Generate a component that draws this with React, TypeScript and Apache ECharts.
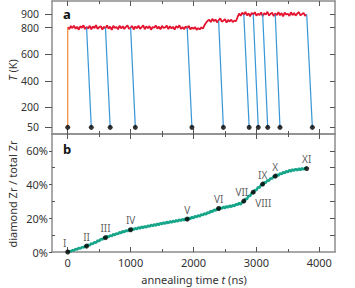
import React, { useEffect, useRef } from "react";
import * as echarts from "echarts";

// sampling step of the recorded traces (ns)
const STEP = 25;

// panel a: temperature trace (K), one value every 25 ns from 0 to 3800 ns
const temperature = [
  803, 788, 812, 796, 815, 791, 807, 784,
  810, 799, 817, 789, 805, 793, 814, 786,
  809, 797, 818, 790, 802, 811, 785, 806,
  795, 816, 792, 808, 783, 813, 798, 804,
  787, 815, 794, 810, 789, 806, 817, 791,
  800, 812, 786, 808, 796, 814, 790, 803,
  818, 788, 809, 795, 811, 784, 805, 799,
  816, 792, 807, 787, 813, 797, 802, 815,
  789, 810, 794, 806, 785, 812, 798, 817,
  791, 804, 788, 809, 796, 814, 786, 801,
  790, 805, 783, 796, 787, 802, 792, 818,
  836, 852, 858, 842, 866, 848, 861, 839,
  855, 870, 845, 852, 863, 838, 857, 846,
  860, 841, 853, 848, 878, 905, 889, 913,
  896, 918, 892, 907, 884, 910, 899, 916,
  890, 904, 895, 914, 887, 908, 897, 919,
  891, 903, 912, 886, 906, 894, 917, 893,
  909, 885, 912, 898, 904, 888, 915, 894,
  910, 890, 906, 916, 892, 901, 911, 889,
  898,
];

// quenches: start time, start temperature, end time (at 50 K)
const quenchStart = [300, 600, 1000, 1900, 2400, 2800, 2950, 3100, 3300, 3800];
const quenchStartT = [800, 800, 800, 800, 850, 900, 900, 900, 900, 900];
const quenchEnd = [375, 675, 1075, 1975, 2475, 2885, 3030, 3180, 3375, 3890];
const heatTime = 0;
const heatT = [50, 800];
const lowT = 50;

// panel b: diamond Zr fraction (%), one value every 25 ns from 0 to 3800 ns
const diamond = [
  0.0, 0.5, 0.2, 1.2, 0.8, 1.9, 1.3, 2.5,
  1.9, 3.0, 2.5, 3.7, 3.3, 4.4, 3.8, 5.2,
  4.7, 6.0, 5.4, 6.9, 6.3, 7.8, 7.2, 8.7,
  8.2, 9.5, 8.8, 10.0, 9.3, 10.7, 9.9, 11.2,
  10.5, 11.9, 11.1, 12.5, 11.7, 13.0, 12.2, 13.5,
  12.8, 14.0, 13.1, 14.3, 13.4, 14.7, 13.8, 15.1,
  14.2, 15.4, 14.5, 15.8, 14.9, 16.2, 15.3, 16.5,
  15.6, 16.9, 16.0, 17.3, 16.4, 17.6, 16.7, 18.0,
  17.0, 18.3, 17.4, 18.6, 17.7, 19.0, 18.0, 19.3,
  18.4, 19.6, 18.7, 20.0, 19.1, 20.4, 19.5, 20.9,
  20.0, 21.4, 20.6, 21.9, 21.0, 22.5, 21.7, 23.1,
  22.2, 23.7, 22.9, 24.5, 23.6, 25.2, 24.4, 25.9,
  25.2, 26.5, 25.6, 26.9, 25.9, 27.3, 26.3, 27.7,
  26.6, 28.0, 27.1, 28.6, 27.8, 29.3, 28.0, 29.8,
  29.6, 31.6, 31.3, 33.4, 33.1, 35.2, 34.9, 36.9,
  36.5, 38.5, 38.1, 40.1, 39.7, 41.5, 40.9, 42.7,
  42.1, 43.9, 43.3, 45.1, 44.5, 46.0, 45.2, 46.8,
  46.0, 47.5, 46.6, 48.1, 47.2, 48.7, 47.7, 49.1,
  48.1, 49.4, 48.3, 49.6, 48.5, 49.8, 48.8, 50.0,
  49.5,
];

// sampled snapshots
const sampleNames = ["I", "II", "III", "IV", "V", "VI", "VII", "VIII", "IX", "X", "XI"];
const sampleTimes = [0, 300, 600, 1000, 1900, 2400, 2800, 2950, 3100, 3300, 3800];
const sampleValues = [0, 3.5, 8.5, 13.2, 19.5, 25.8, 30.2, 35.5, 40.3, 45.0, 49.5];

const xMajor = [0, 1000, 2000, 3000, 4000];
const xMinor = [500, 1500, 2500, 3500];
const tTicks = [50, 200, 400, 600, 800, 900];
const pMajor = [0, 20, 40, 60];
const pMinor = [10, 30, 50];
const pAll = [10, 20, 30, 40, 50, 60];

const FONT = "Noto Sans";
const AX = "#8c8c8c";
const TICK = "#555";
const TXT = "#333";

export default function App() {
  const ref = useRef<HTMLDivElement>(null);
  useEffect(() => {
    if (!ref.current) return;
    const chart = echarts.init(ref.current, undefined, { renderer: "svg" });

    const xBase = (grid: number, pos: string, ticks: number[], len: number, labels: boolean, line: boolean) => ({
      type: "value",
      gridIndex: grid,
      position: pos,
      min: -250,
      max: 4250,
      axisLine: { show: line, onZero: false, lineStyle: { color: AX, width: 1.5 } },
      axisTick: { show: true, inside: true, length: len, customValues: ticks, lineStyle: { color: TICK, width: 1 } },
      axisLabel: labels
        ? {
            show: true,
            customValues: xMajor,
            margin: 5,
            color: TXT,
            fontFamily: FONT,
            fontSize: 11,
            formatter: (v: number) => String(v),
          }
        : { show: false },
      splitLine: { show: false },
    });

    const yBase = (grid: number, pos: string, max: number) => ({
      type: "value",
      gridIndex: grid,
      position: pos,
      min: 0,
      max,
      axisLine: { show: true, onZero: false, lineStyle: { color: AX, width: 1.5 } },
      splitLine: { show: false },
    });

    const redData = temperature.map((v, i) => [i * STEP, v]);
    const greenData = diamond.map((v, i) => [i * STEP, v]);

    const quenchSeries = quenchStart.map((s, i) => ({
      type: "line",
      xAxisIndex: 0,
      yAxisIndex: 0,
      data: [
        [s, quenchStartT[i]],
        [quenchEnd[i], lowT],
      ],
      showSymbol: false,
      lineStyle: { color: "#3796d6", width: 1.2 },
      z: 3,
    }));

    const labelOffsets: Record<string, number[]> = {
      I: [-3, 0],
      VII: [-2, 0],
      VIII: [10, 20],
    };

    chart.setOption({
      animation: false,
      grid: [
        { left: 52, top: 1, width: 283, height: 133 },
        { left: 52, top: 134, width: 283, height: 118 },
      ],
      xAxis: [
        xBase(0, "bottom", xMajor, 5, false, true),
        xBase(0, "top", xMajor, 5, false, true),
        xBase(1, "bottom", xMajor, 5, true, true),
        xBase(1, "top", xMajor, 5, false, true),
        xBase(0, "bottom", xMinor, 3, false, false),
        xBase(0, "top", xMinor, 3, false, false),
        xBase(1, "bottom", xMinor, 3, false, false),
        xBase(1, "top", xMinor, 3, false, false),
      ],
      yAxis: [
        {
          ...yBase(0, "left", 1000),
          axisTick: { show: true, inside: false, length: 7, customValues: tTicks, lineStyle: { color: TICK } },
          axisLabel: {
            customValues: tTicks,
            margin: 13,
            color: TXT,
            fontFamily: FONT,
            fontSize: 10.5,
            lineHeight: 11,
          },
        },
        {
          ...yBase(0, "right", 1000),
          axisTick: { show: true, inside: true, length: 5, customValues: tTicks, lineStyle: { color: TICK } },
          axisLabel: { show: false },
        },
        {
          ...yBase(1, "left", 70),
          axisTick: { show: true, inside: false, length: 3, customValues: pMajor, lineStyle: { color: TICK } },
          axisLabel: {
            customValues: pMajor,
            margin: 4,
            color: TXT,
            fontFamily: FONT,
            fontSize: 11,
            formatter: (v: number) => `${v}%`,
          },
        },
        {
          ...yBase(1, "right", 70),
          axisTick: { show: true, inside: true, length: 5, customValues: pAll, lineStyle: { color: TICK } },
          axisLabel: { show: false },
        },
        {
          ...yBase(1, "left", 70),
          axisLine: { show: false, onZero: false },
          axisTick: { show: true, inside: true, length: 3, customValues: pMinor, lineStyle: { color: TICK } },
          axisLabel: { show: false },
        },
      ],
      series: [
        {
          type: "line",
          xAxisIndex: 0,
          yAxisIndex: 0,
          data: redData,
          showSymbol: false,
          lineStyle: { color: "#e4132f", width: 1.8 },
          z: 2,
        },
        {
          type: "line",
          xAxisIndex: 0,
          yAxisIndex: 0,
          data: [
            [heatTime, heatT[0]],
            [heatTime, heatT[1]],
          ],
          showSymbol: false,
          lineStyle: { color: "#f08a3c", width: 1.2 },
          z: 3,
        },
        ...quenchSeries,
        {
          type: "scatter",
          xAxisIndex: 0,
          yAxisIndex: 0,
          data: [heatTime, ...quenchEnd].map((t) => [t, lowT]),
          symbolSize: 5,
          itemStyle: { color: "#000" },
          z: 5,
        },
        {
          type: "line",
          xAxisIndex: 2,
          yAxisIndex: 2,
          data: greenData,
          showSymbol: false,
          lineStyle: { color: "#16a589", width: 2.4 },
          z: 2,
        },
        {
          type: "scatter",
          xAxisIndex: 2,
          yAxisIndex: 2,
          data: sampleTimes.map((t, i) => ({
            value: [t, sampleValues[i]],
            name: sampleNames[i],
            label: {
              show: true,
              position: "top",
              distance: 2,
              offset: labelOffsets[sampleNames[i]] || [0, 0],
              formatter: sampleNames[i],
              color: TXT,
              fontFamily: FONT,
              fontSize: 10,
            },
          })),
          symbolSize: 5,
          itemStyle: { color: "#000" },
          z: 5,
        },
      ],
      graphic: [
        {
          type: "text",
          x: 63,
          y: 14,
          style: { text: "a", fontFamily: FONT, fontWeight: "bold", fontSize: 13, fill: "#111", verticalAlign: "middle" },
        },
        {
          type: "text",
          x: 63,
          y: 149,
          style: { text: "b", fontFamily: FONT, fontWeight: "bold", fontSize: 13, fill: "#111", verticalAlign: "middle" },
        },
        {
          type: "text",
          x: 12,
          y: 70,
          rotation: Math.PI / 2,
          style: {
            text: "{i|T} (K)",
            rich: { i: { fontStyle: "italic", fontFamily: FONT, fontSize: 11, fill: TXT } },
            fontFamily: FONT,
            fontSize: 11,
            fill: TXT,
            align: "center",
            verticalAlign: "middle",
          },
        },
        {
          type: "text",
          x: 12,
          y: 194,
          rotation: Math.PI / 2,
          style: {
            text: "diamond Zr / total Zr",
            fontFamily: FONT,
            fontSize: 11,
            fill: TXT,
            align: "center",
            verticalAlign: "middle",
          },
        },
        {
          type: "text",
          x: 194,
          y: 279,
          style: {
            text: "annealing time {i|t} (ns)",
            rich: { i: { fontStyle: "italic", fontFamily: FONT, fontSize: 11, fill: TXT } },
            fontFamily: FONT,
            fontSize: 11,
            fill: TXT,
            align: "center",
            verticalAlign: "middle",
          },
        },
      ],
    });
    return () => chart.dispose();
  }, []);
  return <div ref={ref} style={{ width: 355, height: 288, position: "absolute", left: 0, top: 0 }} />;
}
